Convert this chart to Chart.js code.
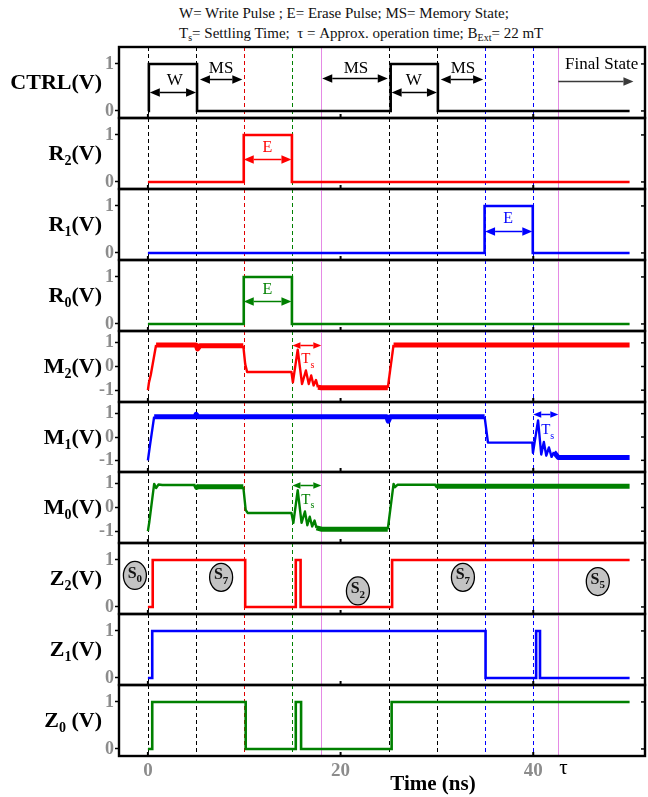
<!DOCTYPE html>
<html>
<head>
<meta charset="utf-8">
<script src="https://cdn.jsdelivr.net/npm/chart.js@4.4.0/dist/chart.umd.min.js"></script>
<style>
  body { margin: 0; background: #fff; }
  #wrap { position: relative; width: 648px; height: 797px; overflow: hidden; }
  #wrap canvas { position: absolute; left: 0; }
  .hdr { position: absolute; left: 179px; font-family: "Liberation Serif", serif; font-size: 15px;
         line-height: 16px; color: #111; white-space: nowrap; }
  .hdr sub { font-size: 10px; vertical-align: -3px; line-height: 0; }
</style>
</head>
<body>
<div id="wrap">
  <div class="hdr" style="top:5px">W= Write Pulse ; E= Erase Pulse; MS= Memory State;</div>
  <div class="hdr" style="top:25px">T<sub>s</sub>= Settling Time;&nbsp; τ = Approx. operation time; B<sub>Ext</sub>= 22 mT</div>
</div>
<script>
// ---- Data (time in ns, signals in V) ----
const timeTicks = [0, 20, 40];

const ctrlT = [0, 0.1, 0.1, 5.1, 5.1, 25.2, 25.2, 30.1, 30.1, 50];
const ctrlV = [0, 0, 1, 1, 0, 0, 1, 1, 0, 0];

const r2T = [0, 9.95, 9.95, 14.95, 14.95, 50];
const r2V = [0, 0, 1, 1, 0, 0];
const r1T = [0, 34.95, 34.95, 39.95, 39.95, 50];
const r1V = [0, 0, 1, 1, 0, 0];
const r0T = [0, 9.95, 9.95, 14.95, 14.95, 50];
const r0V = [0, 0, 1, 1, 0, 0];

const m2T = [0, 0.1, 0.3, 0.85, 5.0, 5.15, 5.4, 9.9, 10.1, 10.3, 14.9, 15.05, 15.55, 16.0, 16.4, 16.7,
             16.95, 17.2, 17.45, 17.65, 18.0, 24.9, 25.5, 50];
const m2V = [-1, -0.7, -0.35, 0.91, 0.91, 0.74, 0.88, 0.88, 0.1, -0.23, -0.23, -0.67, 0.71, -0.74, -0.17, -0.74,
             -0.38, -0.8, -0.57, -0.88, -0.9, -0.9, 0.91, 0.91];
const m2Noisy = [[0.85, 10], [17.65, 25], [25.5, 50]];

const m1T = [0, 0.2, 0.65, 4.9, 5.0, 5.2, 24.8, 24.95, 25.15, 34.95, 35.3, 39.9, 39.97, 40.5, 40.83, 41.1,
             41.35, 41.63, 41.9, 42.15, 42.6, 50];
const m1V = [-1, -0.4, 0.87, 0.87, 0.97, 0.87, 0.87, 0.68, 0.87, 0.87, -0.24, -0.24, -0.68, 0.71, -0.75, -0.21,
             -0.8, -0.45, -0.85, -0.65, -0.88, -0.88];
const m1Noisy = [[0.65, 35], [42.15, 50]];

const m0T = [0, 0.15, 0.4, 0.65, 0.85, 1.1, 1.5, 4.95, 5.05, 5.3, 9.9, 10.15, 10.35, 14.9, 15.1, 15.55,
             15.95, 16.3, 16.55, 16.8, 17.05, 17.3, 17.5, 18.05, 24.9, 25.5, 25.65, 25.9, 29.9, 30.1, 50];
const m0V = [-1, -0.6, 0.2, 1.0, 0.82, 0.97, 0.95, 0.95, 0.85, 0.88, 0.88, -0.1, -0.23, -0.23, -0.65, 0.73,
             -0.65, -0.17, -0.75, -0.39, -0.8, -0.55, -0.86, -0.92, -0.92, 1.0, 0.86, 0.96, 0.96, 0.9, 0.9];
const m0Noisy = [[4.95, 10], [17.5, 25], [29.9, 50]];

const z2T = [0, 0.5, 0.5, 10.1, 10.1, 15.35, 15.35, 15.85, 15.85, 25.35, 25.35, 50];
const z2V = [0, 0, 1, 1, 0, 0, 1, 1, 0, 0, 1, 1];
const z1T = [0, 0.45, 0.45, 35.05, 35.05, 40.3, 40.3, 40.7, 40.7, 50];
const z1V = [0, 0, 1, 1, 0, 0, 1, 1, 0, 0];
const z0T = [0, 0.45, 0.45, 10.15, 10.15, 15.35, 15.35, 15.9, 15.9, 25.3, 25.3, 50];
const z0V = [0, 0, 1, 1, 0, 0, 1, 1, 0, 0, 1, 1];

// Event markers (dashed) and the two settling instants (solid violet)
const eventTimes = [0, 5, 10, 15, 25, 30, 35, 40];
const eventColors = ["#000", "#000", "#e00000", "#008000", "#000", "#000", "#0000ff", "#0000ff"];
const settleTimes = [18, 42.6];

// Memory states marked on the Z2 panel
const stateNames = ["0", "7", "2", "7", "5"];
const stateTimes = [-1.35, 7.6, 21.8, 32.7, 46.7];
const stateLevels = [0.67, 0.63, 0.34, 0.63, 0.54];

// ---- Layout ----
const RED = "#ff0000", BLUE = "#0000ff", GREEN = "#008000";
const FONT = '"Liberation Serif", "Times New Roman", serif';
const panelEdges = [47, 118, 189, 260, 331, 402, 472, 543, 614, 685, 756];
const binaryRange = [-0.15, 1.36];
const analogRange = [-1.5, 1.5];

/**
 * Splits a label such as "R_2(V)" into normal and subscript pieces.
 */
function rich_parts(str) {
    const parts = [];
    for (let i = 0; i < str.length; i++) {
        if (str[i] === "_") {
            parts.push({ t: str[i + 1], sub: true });
            i++;
        } else if (parts.length && !parts[parts.length - 1].sub) {
            parts[parts.length - 1].t += str[i];
        } else {
            parts.push({ t: str[i], sub: false });
        }
    }
    return parts;
}

/**
 * Draws text with subscripts on the canvas.
 */
function draw_rich(ctx, str, x, y, o) {
    const parts = rich_parts(str);
    const fMain = `${o.weight || "normal"} ${o.size}px ${FONT}`;
    const fSub = `${o.weight || "normal"} ${o.sub || o.size * 0.65}px ${FONT}`;
    let w = 0;
    parts.forEach(function (p) {
        ctx.font = p.sub ? fSub : fMain;
        p.w = ctx.measureText(p.t).width;
        w += p.w;
    });
    let cx = o.align === "right" ? x - w : o.align === "left" ? x : x - w / 2;
    ctx.fillStyle = o.color || "#000";
    ctx.textBaseline = "middle";
    ctx.textAlign = "left";
    parts.forEach(function (p) {
        ctx.font = p.sub ? fSub : fMain;
        ctx.fillText(p.t, cx, y + (p.sub ? (o.dy || 5) : 0));
        cx += p.w;
    });
}

/**
 * Draws a horizontal arrow, with one or two filled heads.
 */
function draw_arrow(ctx, x1, x2, y, color, both, head) {
    const hw = head * 0.42;
    ctx.strokeStyle = color;
    ctx.fillStyle = color;
    ctx.lineWidth = 1.5;
    ctx.setLineDash([]);
    ctx.beginPath();
    ctx.moveTo(x1 + (both ? head : 0), y);
    ctx.lineTo(x2 - head, y);
    ctx.stroke();
    const tips = both ? [[x2, 1], [x1, -1]] : [[x2, 1]];
    tips.forEach(function ([tx, dir]) {
        ctx.beginPath();
        ctx.moveTo(tx, y);
        ctx.lineTo(tx - dir * head, y - hw);
        ctx.lineTo(tx - dir * head, y + hw);
        ctx.closePath();
        ctx.fill();
    });
}

/**
 * Builds the plugin that draws frame, markers, labels and notes of one panel.
 */
function make_panel_plugin(cfg) {
    return {
        id: "panel" + cfg.index,
        beforeDatasetsDraw(chart) {
            const { ctx, chartArea: a, scales: { x } } = chart;
            ctx.save();
            ctx.beginPath();
            ctx.rect(a.left, a.top, a.right - a.left, a.bottom - a.top);
            ctx.clip();
            ctx.lineWidth = 1;
            settleTimes.forEach(function (t) {
                const px = Math.round(x.getPixelForValue(t)) + 0.5;
                ctx.strokeStyle = "#e58ae5";
                ctx.setLineDash([]);
                ctx.beginPath();
                ctx.moveTo(px, a.top);
                ctx.lineTo(px, a.bottom);
                ctx.stroke();
            });
            eventTimes.forEach(function (t, i) {
                const px = Math.round(x.getPixelForValue(t)) + 0.5;
                ctx.strokeStyle = eventColors[i];
                ctx.setLineDash([4, 3]);
                ctx.beginPath();
                ctx.moveTo(px, a.top);
                ctx.lineTo(px, a.bottom);
                ctx.stroke();
            });
            ctx.restore();
        },
        afterDatasetsDraw(chart) {
            const { ctx, chartArea: a, scales: { x, y } } = chart;
            ctx.save();

            // Notes: arrows, texts and state bubbles
            cfg.notes.forEach(function (n) {
                if (n.kind === "arrow") {
                    draw_arrow(ctx, x.getPixelForValue(n.t1), x.getPixelForValue(n.t2),
                        Math.round(y.getPixelForValue(n.v)) + 0.5, n.color, n.both, n.head || 10);
                } else if (n.kind === "text") {
                    draw_rich(ctx, n.s, x.getPixelForValue(n.t), y.getPixelForValue(n.v),
                        { size: n.size || 17, sub: 10, dy: 6, color: n.color, align: n.align || "center" });
                }
            });
            if (cfg.states) {
                stateNames.forEach(function (name, i) {
                    const cx = x.getPixelForValue(stateTimes[i]);
                    const cy = y.getPixelForValue(stateLevels[i]);
                    ctx.beginPath();
                    ctx.ellipse(cx, cy, 11.5, 14, 0, 0, Math.PI * 2);
                    ctx.fillStyle = "#c3c3c3";
                    ctx.fill();
                    ctx.lineWidth = 1.3;
                    ctx.strokeStyle = "#000";
                    ctx.stroke();
                    draw_rich(ctx, "S_" + name, cx, cy - 2, { size: 16, sub: 11, dy: 6, weight: "bold", color: "#111" });
                });
            }

            // Frame and inner tick marks
            ctx.setLineDash([]);
            ctx.strokeStyle = "#000";
            ctx.lineWidth = 2.4;
            ctx.strokeRect(a.left, a.top, a.right - a.left, a.bottom - a.top);
            ctx.lineWidth = 1.5;
            cfg.ticks.forEach(function (v) {
                const py = y.getPixelForValue(v);
                ctx.beginPath();
                ctx.moveTo(a.right, py);
                ctx.lineTo(a.right - 4, py);
                ctx.stroke();
            });
            ctx.lineWidth = 2;
            timeTicks.forEach(function (t) {
                const px = x.getPixelForValue(t);
                ctx.beginPath();
                ctx.moveTo(px, a.bottom);
                ctx.lineTo(px, a.bottom - 4);
                ctx.stroke();
            });

            // Panel label on the left
            draw_rich(ctx, cfg.label, 102, (a.top + a.bottom) / 2 + 1,
                { size: 22, sub: 14, dy: 7, weight: "bold", color: "#000", align: "right" });

            // Time axis title and tau mark on the last panel (canvas coordinates)
            if (cfg.last) {
                draw_rich(ctx, "Time (ns)", 433, a.bottom + 29, { size: 21, weight: "bold", color: "#000" });
                draw_rich(ctx, "τ", x.getPixelForValue(settleTimes[1]) + 1, a.bottom + 12,
                    { size: 21, color: "#000", align: "left" });
            }
            ctx.restore();
        }
    };
}

/**
 * Returns true when a line piece lies inside one of the ripple ranges.
 */
function in_ranges(ranges, t0, t1) {
    return ranges.some(([a, b]) => t0 >= a - 1e-6 && t1 <= b + 1e-6);
}

/**
 * Removes the extra room Chart.js keeps for half tick labels at the axis ends.
 */
function zero_padding(scale) {
    scale.paddingTop = 0;
    scale.paddingBottom = 0;
    scale.paddingLeft = 0;
    scale.paddingRight = 0;
}

/**
 * Creates one stacked panel as its own Chart.js chart.
 */
function create_panel(index, cfg) {
    const last = index === panelEdges.length - 2;
    const top = panelEdges[index] - 2;
    const height = last ? 797 - top : panelEdges[index + 1] - panelEdges[index] + 4;
    const canvas = document.createElement("canvas");
    canvas.width = 648;
    canvas.height = height;
    canvas.style.top = top + "px";
    canvas.style.width = "648px";
    canvas.style.height = height + "px";
    document.getElementById("wrap").appendChild(canvas);

    cfg.index = index;
    cfg.last = last;
    const range = cfg.analog ? analogRange : binaryRange;
    cfg.ticks = cfg.analog ? [-1, 0, 1] : [0, 1];

    const data = cfg.t.map((t, i) => ({ x: t, y: cfg.v[i] }));
    const dataset = {
        data: data,
        borderColor: cfg.color,
        borderWidth: cfg.analog ? 2.4 : 2.6,
        pointRadius: 0,
        tension: 0,
        borderJoinStyle: cfg.analog ? "round" : "miter",
        borderCapStyle: "butt"
    };
    if (cfg.noisy) {
        dataset.segment = {
            borderWidth: ctx => in_ranges(cfg.noisy, ctx.p0.parsed.x, ctx.p1.parsed.x) ? 5 : 2.4
        };
    }

    const xAxis = {
        type: "linear",
        min: -3,
        max: 51.6,
        display: last,
        grid: { drawOnChartArea: false, drawTicks: false },
        border: { display: false },
        ticks: {
            color: "#8c8c8c",
            padding: 4,
            maxRotation: 0,
            font: { family: FONT, weight: "bold", size: 19 }
        }
    };
    if (last) {
        xAxis.afterBuildTicks = scale => { scale.ticks = timeTicks.map(v => ({ value: v })); };
        xAxis.afterFit = scale => { scale.height = 41; zero_padding(scale); };
    }

    new Chart(canvas, {
        type: "line",
        data: { datasets: [dataset] },
        options: {
            responsive: false,
            animation: false,
            devicePixelRatio: 1,
            layout: { padding: { top: 2, bottom: last ? 0 : 2, left: 0, right: 3 } },
            plugins: { legend: { display: false }, tooltip: { enabled: false } },
            scales: {
                x: xAxis,
                y: {
                    min: range[0],
                    max: range[1],
                    afterBuildTicks: scale => { scale.ticks = cfg.ticks.map(v => ({ value: v })); },
                    afterFit: scale => { scale.width = 119; zero_padding(scale); },
                    grid: { drawOnChartArea: false, drawTicks: true, tickLength: 4, tickColor: "#000", tickWidth: 1.5 },
                    border: { display: false },
                    ticks: {
                        color: "#8c8c8c",
                        padding: 1,
                        font: { family: FONT, weight: "bold", size: 18 }
                    }
                }
            }
        },
        plugins: [make_panel_plugin(cfg)]
    });
}

const ctrlNotes = [
    { kind: "text", t: 2.8, v: 0.64, s: "W" },
    { kind: "arrow", t1: 0.2, t2: 5.0, v: 0.41, both: true, color: "#000" },
    { kind: "text", t: 7.6, v: 0.9, s: "MS" },
    { kind: "arrow", t1: 5.4, t2: 9.8, v: 0.68, both: true, color: "#000" },
    { kind: "text", t: 21.6, v: 0.91, s: "MS" },
    { kind: "arrow", t1: 18.1, t2: 24.9, v: 0.71, both: true, color: "#000" },
    { kind: "text", t: 27.6, v: 0.64, s: "W" },
    { kind: "arrow", t1: 25.3, t2: 30.0, v: 0.41, both: true, color: "#000" },
    { kind: "text", t: 32.7, v: 0.9, s: "MS" },
    { kind: "arrow", t1: 30.4, t2: 34.8, v: 0.68, both: true, color: "#000" },
    { kind: "text", t: 47.1, v: 0.98, s: "Final State" },
    { kind: "arrow", t1: 42.6, t2: 50.4, v: 0.64, both: false, color: "#3a3a3a" }
];

const panels = [
    { label: "CTRL(V)", t: ctrlT, v: ctrlV, color: "#000", notes: ctrlNotes },
    { label: "R_2(V)", t: r2T, v: r2V, color: RED, notes: [
        { kind: "text", t: 12.4, v: 0.72, s: "E", color: RED, size: 16 },
        { kind: "arrow", t1: 9.95, t2: 14.9, v: 0.48, both: true, color: RED }] },
    { label: "R_1(V)", t: r1T, v: r1V, color: BLUE, notes: [
        { kind: "text", t: 37.4, v: 0.72, s: "E", color: BLUE, size: 16 },
        { kind: "arrow", t1: 35.0, t2: 39.9, v: 0.46, both: true, color: BLUE }] },
    { label: "R_0(V)", t: r0T, v: r0V, color: GREEN, notes: [
        { kind: "text", t: 12.4, v: 0.72, s: "E", color: GREEN, size: 16 },
        { kind: "arrow", t1: 9.95, t2: 14.9, v: 0.48, both: true, color: GREEN }] },
    { label: "M_2(V)", t: m2T, v: m2V, color: RED, analog: true, noisy: m2Noisy, notes: [
        { kind: "arrow", t1: 15.0, t2: 18.0, v: 0.92, both: true, color: RED, head: 8 },
        { kind: "text", t: 16.6, v: 0.3, s: "T_s", color: RED, size: 15 }] },
    { label: "M_1(V)", t: m1T, v: m1V, color: BLUE, analog: true, noisy: m1Noisy, notes: [
        { kind: "arrow", t1: 40.0, t2: 42.6, v: 1.0, both: true, color: BLUE, head: 8 },
        { kind: "text", t: 41.5, v: 0.3, s: "T_s", color: BLUE, size: 15 }] },
    { label: "M_0(V)", t: m0T, v: m0V, color: GREEN, analog: true, noisy: m0Noisy, notes: [
        { kind: "arrow", t1: 15.0, t2: 18.0, v: 0.95, both: true, color: GREEN, head: 8 },
        { kind: "text", t: 16.6, v: 0.33, s: "T_s", color: GREEN, size: 15 }] },
    { label: "Z_2(V)", t: z2T, v: z2V, color: RED, notes: [], states: true },
    { label: "Z_1(V)", t: z1T, v: z1V, color: BLUE, notes: [] },
    { label: "Z_0 (V)", t: z0T, v: z0V, color: GREEN, notes: [] }
];

panels.forEach(function (cfg, i) {
    create_panel(i, cfg);
});
</script>
</body>
</html>
